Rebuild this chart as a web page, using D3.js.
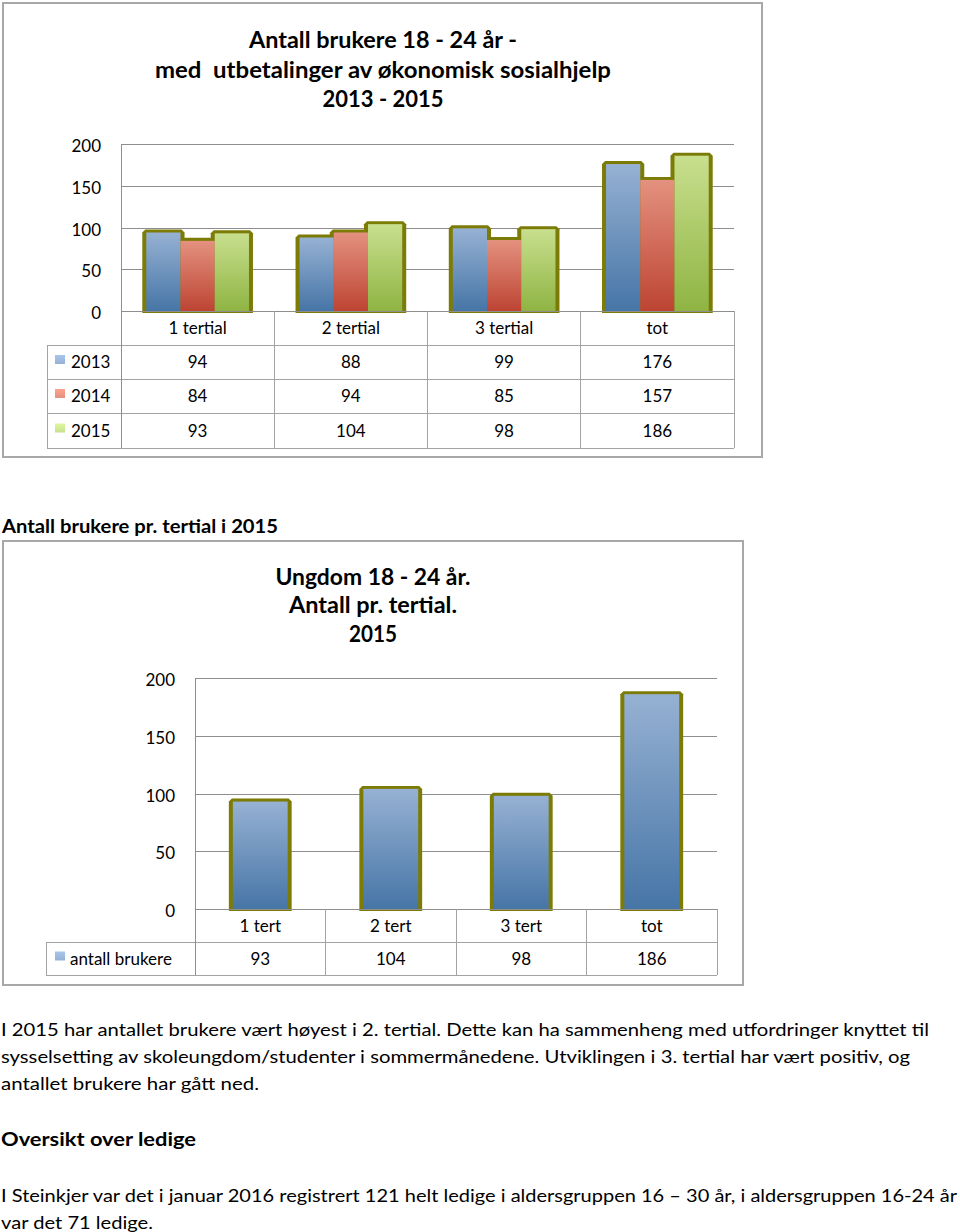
<!DOCTYPE html>
<html><head><meta charset="utf-8">
<script src="https://cdn.jsdelivr.net/npm/d3@7"></script>
<style>
body{margin:0;background:#fff}
svg{display:block}
text{font-family:Lato,"Open Sans",sans-serif;fill:#000;white-space:pre}
</style>
</head><body>
<script>
// ---------- data ----------
const categories1 = ["1 tertial", "2 tertial", "3 tertial", "tot"];
const seriesNames1 = ["2013", "2014", "2015"];
const values2013 = [94, 88, 99, 176];
const values2014 = [84, 94, 85, 157];
const values2015 = [93, 104, 98, 186];
const yTicks = [0, 50, 100, 150, 200];
const title1 = ["Antall brukere 18 - 24 år -", "med  utbetalinger av økonomisk sosialhjelp", "2013 - 2015"];

const categories2 = ["1 tert", "2 tert", "3 tert", "tot"];
const seriesName2 = "antall brukere";
const values2 = [93, 104, 98, 186];
const title2 = ["Ungdom 18 - 24 år.", "Antall pr. tertial.", "2015"];

const heading2 = "Antall brukere pr. tertial i 2015";
const paragraph1 = [
  "I 2015 har antallet brukere vært høyest i 2. tertial. Dette kan ha sammenheng med utfordringer knyttet til",
  "sysselsetting av skoleungdom/studenter i sommermånedene. Utviklingen i 3. tertial har vært positiv, og",
  "antallet brukere har gått ned."
];
const heading3 = "Oversikt over ledige";
const paragraph2 = [
  "I Steinkjer var det i januar 2016 registrert 121 helt ledige i aldersgruppen 16 – 30 år, i aldersgruppen 16-24 år",
  "var det 71 ledige."
];

// ---------- setup ----------
const W = 960, H = 1232;
const svg = d3.select("body").append("svg").attr("width", W).attr("height", H);
svg.append("rect").attr("width", W).attr("height", H).attr("fill", "#fff");
const defs = svg.append("defs");
const palette = {
  blue: ["#96b1d3", "#4675a6"],
  red: ["#e4917f", "#bd4433"],
  green: ["#c8df8e", "#8fb443"]
};
Object.entries(palette).forEach(([k, c]) => {
  const g = defs.append("linearGradient").attr("id", "g-" + k).attr("x1", 0).attr("y1", 0).attr("x2", 0).attr("y2", 1);
  g.append("stop").attr("offset", "0%").attr("stop-color", c[0]);
  g.append("stop").attr("offset", "100%").attr("stop-color", c[1]);
  const gi = defs.append("linearGradient").attr("id", "gi-" + k).attr("x1", 0).attr("y1", 0).attr("x2", 0).attr("y2", 1);
  gi.append("stop").attr("offset", "0%").attr("stop-color", d3.color(c[0]).brighter(0.3));
  gi.append("stop").attr("offset", "100%").attr("stop-color", c[0]);
});
const OLIVE = "#7b7b06";
const GRID = "#8e8e8e";
const TABLE = "#a3a3a3";
const BOX = "#a8a8a8";

function olivePath(x, top, w, bottom) {
  const L = x - 4, R = x + w + 4, T = top - 3, B = bottom + 2;
  return `M${L},${T + 3}L${L + 3},${T}L${R - 3},${T}L${R},${T + 3}L${R},${B}L${L},${B}Z`;
}

function drawChart(cfg) {
  const g = svg.append("g");
  g.append("rect").attr("x", cfg.box[0]).attr("y", cfg.box[1])
    .attr("width", cfg.box[2] - cfg.box[0]).attr("height", cfg.box[3] - cfg.box[1])
    .attr("fill", "#fff").attr("stroke", BOX).attr("stroke-width", 2);
  cfg.title.forEach((t, i) => {
    g.append("text").attr("x", cfg.titleX).attr("y", cfg.titleY[i]).attr("text-anchor", "middle")
      .attr("font-weight", "bold").attr("font-size", 22)
      .attr("textLength", cfg.titleW[i]).attr("lengthAdjust", "spacingAndGlyphs").text(t);
  });
  const y = d3.scaleLinear().domain([0, 200]).range([cfg.plot.bottom, cfg.plot.top]);
  const x0 = d3.scaleBand().domain(cfg.categories).range([cfg.plot.left, cfg.plot.right])
    .paddingInner(cfg.pad).paddingOuter(cfg.pad / 2);
  const x1 = d3.scaleBand().domain(cfg.series.map(s => s.name)).range([0, x0.bandwidth()]);
  g.append("g").selectAll("line").data(yTicks.filter(d => d > 0)).join("line")
    .attr("x1", cfg.plot.left).attr("x2", cfg.plot.right)
    .attr("y1", d => Math.round(y(d)) + 0.5).attr("y2", d => Math.round(y(d)) + 0.5)
    .attr("stroke", GRID).attr("stroke-width", 1);
  const ax = g.append("g").attr("transform", `translate(${cfg.tickX},0)`)
    .call(d3.axisLeft(y).tickValues(yTicks).tickSize(0).tickPadding(0));
  ax.select(".domain").remove();
  ax.selectAll("text").attr("font-family", "Lato, sans-serif").attr("font-size", 17).attr("fill", "#000")
    .attr("dy", "0.45em");
  const flat = [];
  cfg.categories.forEach((c, i) => cfg.series.forEach(s => flat.push({ cat: c, s: s.name, color: s.color, v: s.values[i] })));
  g.append("g").selectAll("path").data(flat).join("path")
    .attr("d", d => olivePath(x0(d.cat) + x1(d.s), y(d.v), x1.bandwidth(), y(0)))
    .attr("fill", OLIVE);
  g.append("g").selectAll("rect").data(flat).join("rect")
    .attr("x", d => x0(d.cat) + x1(d.s)).attr("y", d => y(d.v))
    .attr("width", x1.bandwidth()).attr("height", d => y(0) - y(d.v))
    .attr("fill", d => `url(#g-${d.color})`);
  const rows = cfg.rows;
  const t = g.append("g").attr("stroke", TABLE).attr("stroke-width", 1).attr("shape-rendering", "crispEdges");
  t.append("line").attr("x1", cfg.plot.left).attr("x2", cfg.plot.right).attr("y1", rows[0]).attr("y2", rows[0]).attr("stroke", GRID);
  rows.slice(1).forEach(r => t.append("line").attr("x1", cfg.legendLeft).attr("x2", cfg.plot.right).attr("y1", r).attr("y2", r));
  t.append("line").attr("x1", cfg.plot.left).attr("x2", cfg.plot.left).attr("y1", cfg.plot.top).attr("y2", rows[rows.length - 1]).attr("stroke", GRID);
  t.append("line").attr("x1", cfg.legendLeft).attr("x2", cfg.legendLeft).attr("y1", rows[1]).attr("y2", rows[rows.length - 1]);
  const step = x0.step();
  cfg.categories.forEach((c, i) => {
    const xx = cfg.plot.left + step * (i + 1);
    t.append("line").attr("x1", xx).attr("x2", xx).attr("y1", rows[0]).attr("y2", rows[rows.length - 1]);
  });
  g.append("g").selectAll("text").data(cfg.categories).join("text")
    .attr("x", d => x0(d) + x0.bandwidth() / 2).attr("y", (rows[0] + rows[1]) / 2 + 6)
    .attr("text-anchor", "middle").attr("font-size", 17).text(d => d);
  cfg.series.forEach((s, j) => {
    const cy = (rows[j + 1] + rows[j + 2]) / 2;
    g.append("rect").attr("x", 55).attr("y", cy - 7).attr("width", 10).attr("height", 9)
      .attr("fill", `url(#gi-${s.color})`);
    g.append("text").attr("x", cfg.labelX).attr("y", cy + 6).attr("font-size", 17).text(s.name);
    g.append("g").selectAll("text").data(s.values).join("text")
      .attr("x", (d, i) => x0(cfg.categories[i]) + x0.bandwidth() / 2).attr("y", cy + 6)
      .attr("text-anchor", "middle").attr("font-size", 17).text(d => d);
  });
}

drawChart({
  box: [3, 3, 762, 457],
  title: title1, titleX: 383, titleY: [48, 78, 107], titleW: [268, 456, 121],
  plot: { left: 121, right: 734, top: 144, bottom: 311 },
  tickX: 101,
  pad: 0.33,
  categories: categories1,
  series: [
    { name: seriesNames1[0], color: "blue", values: values2013 },
    { name: seriesNames1[1], color: "red", values: values2014 },
    { name: seriesNames1[2], color: "green", values: values2015 }
  ],
  rows: [311, 345, 379, 413, 448],
  legendLeft: 47, labelX: 71
});

drawChart({
  box: [3, 541, 743, 985],
  title: title2, titleX: 373, titleY: [585, 613, 642], titleW: [195, 168, 48],
  plot: { left: 195, right: 717, top: 678, bottom: 909 },
  tickX: 175,
  pad: 0.58,
  categories: categories2,
  series: [{ name: seriesName2, color: "blue", values: values2 }],
  rows: [909, 942, 975],
  legendLeft: 46, labelX: 70
});

svg.append("text").attr("x", 2).attr("y", 533).attr("font-weight", "bold").attr("font-size", 19)
  .attr("textLength", 276).attr("lengthAdjust", "spacingAndGlyphs").text(heading2);
const p1W = [928, 909, 258];
paragraph1.forEach((l, i) => svg.append("text").attr("x", 1).attr("y", 1036 + i * 27)
  .attr("font-size", 18).attr("textLength", p1W[i]).attr("lengthAdjust", "spacingAndGlyphs").text(l));
svg.append("text").attr("x", 1).attr("y", 1146).attr("font-weight", "bold").attr("font-size", 19)
  .attr("textLength", 195).attr("lengthAdjust", "spacingAndGlyphs").text(heading3);
const p2W = [956, 152];
paragraph2.forEach((l, i) => svg.append("text").attr("x", 1).attr("y", 1202 + i * 27)
  .attr("font-size", 18).attr("textLength", p2W[i]).attr("lengthAdjust", "spacingAndGlyphs").text(l));
</script>
</body></html>
